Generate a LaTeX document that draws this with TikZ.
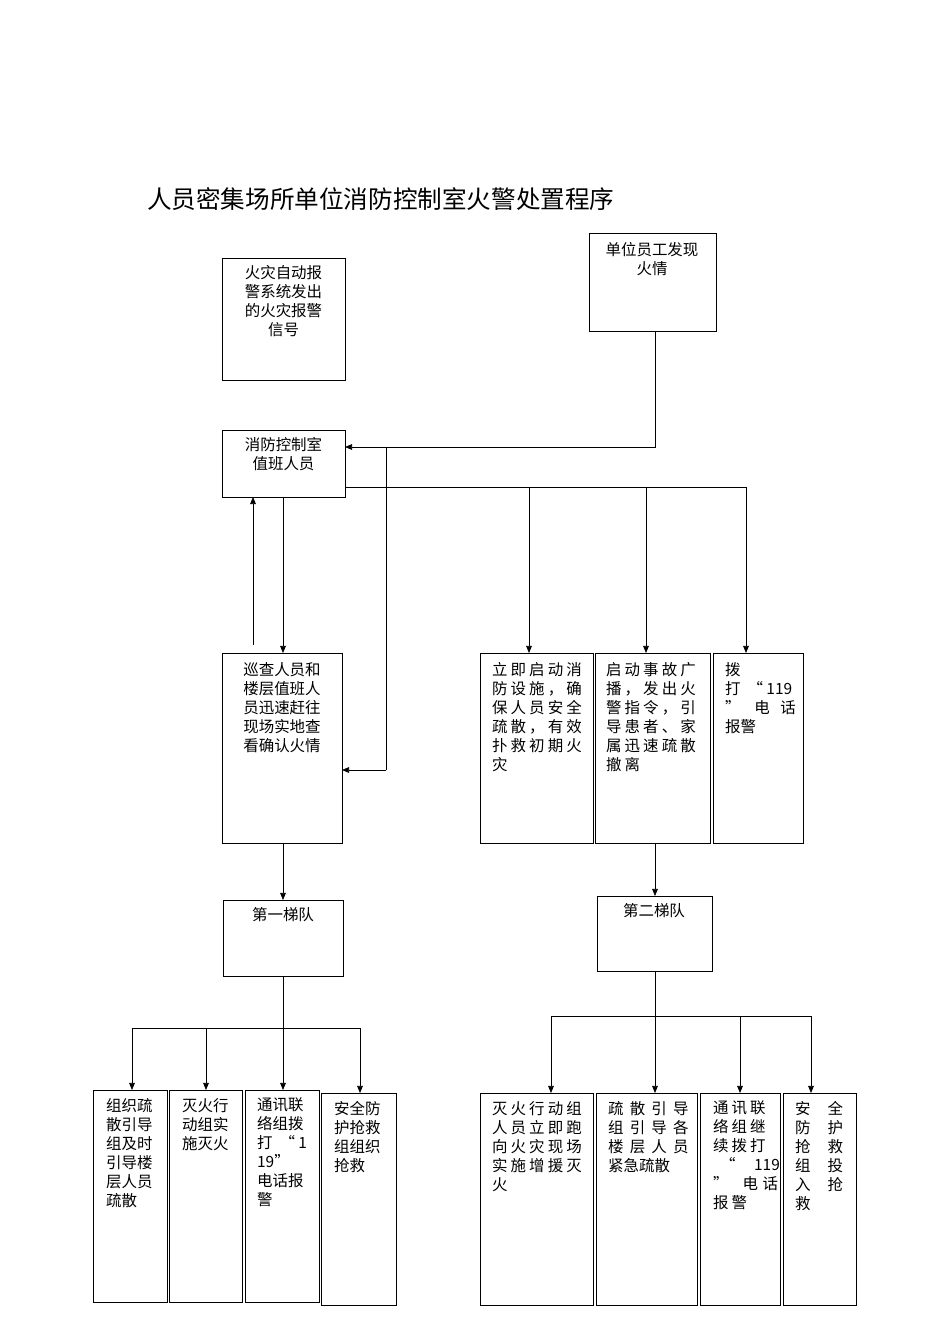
\documentclass[tikz,border=0pt]{standalone}
\usepackage{fontspec}
\setmainfont{Liberation Serif}
\newfontfamily\cjk{Noto Sans CJK SC}
\newfontfamily\cjksp{Noto Sans CJK SC}[LetterSpace=20]
\newfontfamily\cjkspp{Noto Sans CJK SC}[LetterSpace=40]
\usetikzlibrary{arrows.meta}
\begin{document}
\begin{tikzpicture}[x=0.05cm,y=-0.05cm,
  bx/.style={draw,line width=1pt},
  tx/.style={anchor=north west,align=left,font=\cjk\fontsize{22}{27}\selectfont,inner sep=0pt},
  sp/.style={tx,font=\cjksp\fontsize{22}{27}\selectfont},
  ln/.style={line width=1pt},
  ar/.style={line width=1pt,-{Triangle[length=10pt,width=8pt]}}]
\useasboundingbox (0,0) rectangle (950,1344);
\node[anchor=west,font=\cjk\fontsize{35}{38}\selectfont,inner sep=0pt] (title) at (147,199) {人员密集场所单位消防控制室火警处置程序};
% boxes
\draw[bx] (222,258) rectangle (345,380);
\node[tx,anchor=north,align=center] (ta) at (283.5,265) {火灾自动报\\警系统发出\\的火灾报警\\信号};
\draw[bx] (589,233) rectangle (716,331); \coordinate (B) at (655,331);
\node[tx,anchor=north,align=center] (tb) at (652,242) {单位员工发现\\火情};
\draw[bx] (222,430) rectangle (345,497);
\node[tx,anchor=north,align=center] (tc) at (283.5,437) {消防控制室\\值班人员};
\draw[bx] (222,653) rectangle (342,843);
\node[tx,anchor=north,align=center] (td) at (282,662) {巡查人员和\\楼层值班人\\员迅速赶往\\现场实地查\\看确认火情};
\draw[bx] (480,653) rectangle (593,843);
\node[sp] (e1) at (492,662) {立即启动消\\防设施，确\\保人员安全\\疏散，有效\\扑救初期火\\灾};
\draw[bx] (595,653) rectangle (710,843);
\node[sp] (e2) at (606,662) {启动事故广\\播，发出火\\警指令，引\\导患者、家\\属迅速疏散\\撤离};
\draw[bx] (713,653) rectangle (803,843);
\node[tx] (e3) at (725,662) {拨\\打 \ “ 119\\” \ \ \ 电 \ \ 话\\报警};
\draw[bx] (223,900) rectangle (343,976);
\node[tx,anchor=north] (tf) at (283,907) {第一梯队};
\draw[bx] (597,896) rectangle (712,971);
\node[tx,anchor=north] (tg) at (654,903) {第二梯队};
% bottom left
\draw[bx] (93,1090) rectangle (167,1302);
\node[tx] (h1) at (106,1098) {组织疏\\散引导\\组及时\\引导楼\\层人员\\疏散};
\draw[bx] (169,1090) rectangle (242,1302);
\node[tx] (h2) at (182,1098) {灭火行\\动组实\\施灭火};
\draw[bx] (245,1090) rectangle (319,1302);
\node[tx] (h3) at (257,1098) {通讯联\\络组拨\\打 \ “ 1\\19”\\电话报\\警};
\draw[bx] (321,1093) rectangle (396,1305);
\node[tx] (h4) at (334,1101) {安全防\\护抢救\\组组织\\抢救};
% bottom right
\draw[bx] (480,1093) rectangle (593,1305);
\node[sp] (i1) at (492,1101) {灭火行动组\\人员立即跑\\向火灾现场\\实施增援灭\\火};
\draw[bx] (596,1093) rectangle (697,1305);
\node[tx,font=\cjkspp\fontsize{22}{27}\selectfont] (i2) at (608,1101) {疏散引导\\组引导各\\楼层人员\\{\cjk 紧急疏散}};
\draw[bx] (700,1093) rectangle (780,1305);
\node[sp] (i3) at (713,1101) {通讯联\\络组继\\续拨打\\{\cjk \ \ “\hspace{1.2em}119}\\{\cjk ”\hspace{0.9em}电\hspace{0.3em}话}\\报警};
\draw[bx] (783,1093) rectangle (856,1305);
\node[tx] (i4) at (795,1101) {安\hspace{1.1em}全\\防\hspace{1.1em}护\\抢\hspace{1.1em}救\\组\hspace{1.1em}投\\入\hspace{1.1em}抢\\救};
% connectors
\draw[ar] (B) -- (655,447) -- (345,447);
\draw[ln] (386,447) -- (386,770);
\draw[ar] (386,770) -- (342,770);
\draw[ln] (345,487) -- (746,487);
\draw[ar] (529,487) -- (529,653);
\draw[ar] (646,487) -- (646,653);
\draw[ar] (746,487) -- (746,653);
\draw[ar] (283,497) -- (283,653);
\draw[ar] (253,645) -- (253,497);
\draw[ar] (283,843) -- (283,900);
\draw[ln] (283,976) -- (283,1028);
\draw[ln] (132,1028) -- (360,1028);
\foreach \x/\y in {132/1090,206/1090,283/1090,360/1093} \draw[ar] (\x,1028) -- (\x,\y);
\draw[ar] (655,843) -- (655,896);
\draw[ln] (655,971) -- (655,1016);
\draw[ln] (551,1016) -- (811,1016);
\foreach \x in {551,655,740,811} \draw[ar] (\x,1016) -- (\x,1093);
\end{tikzpicture}
\end{document}
